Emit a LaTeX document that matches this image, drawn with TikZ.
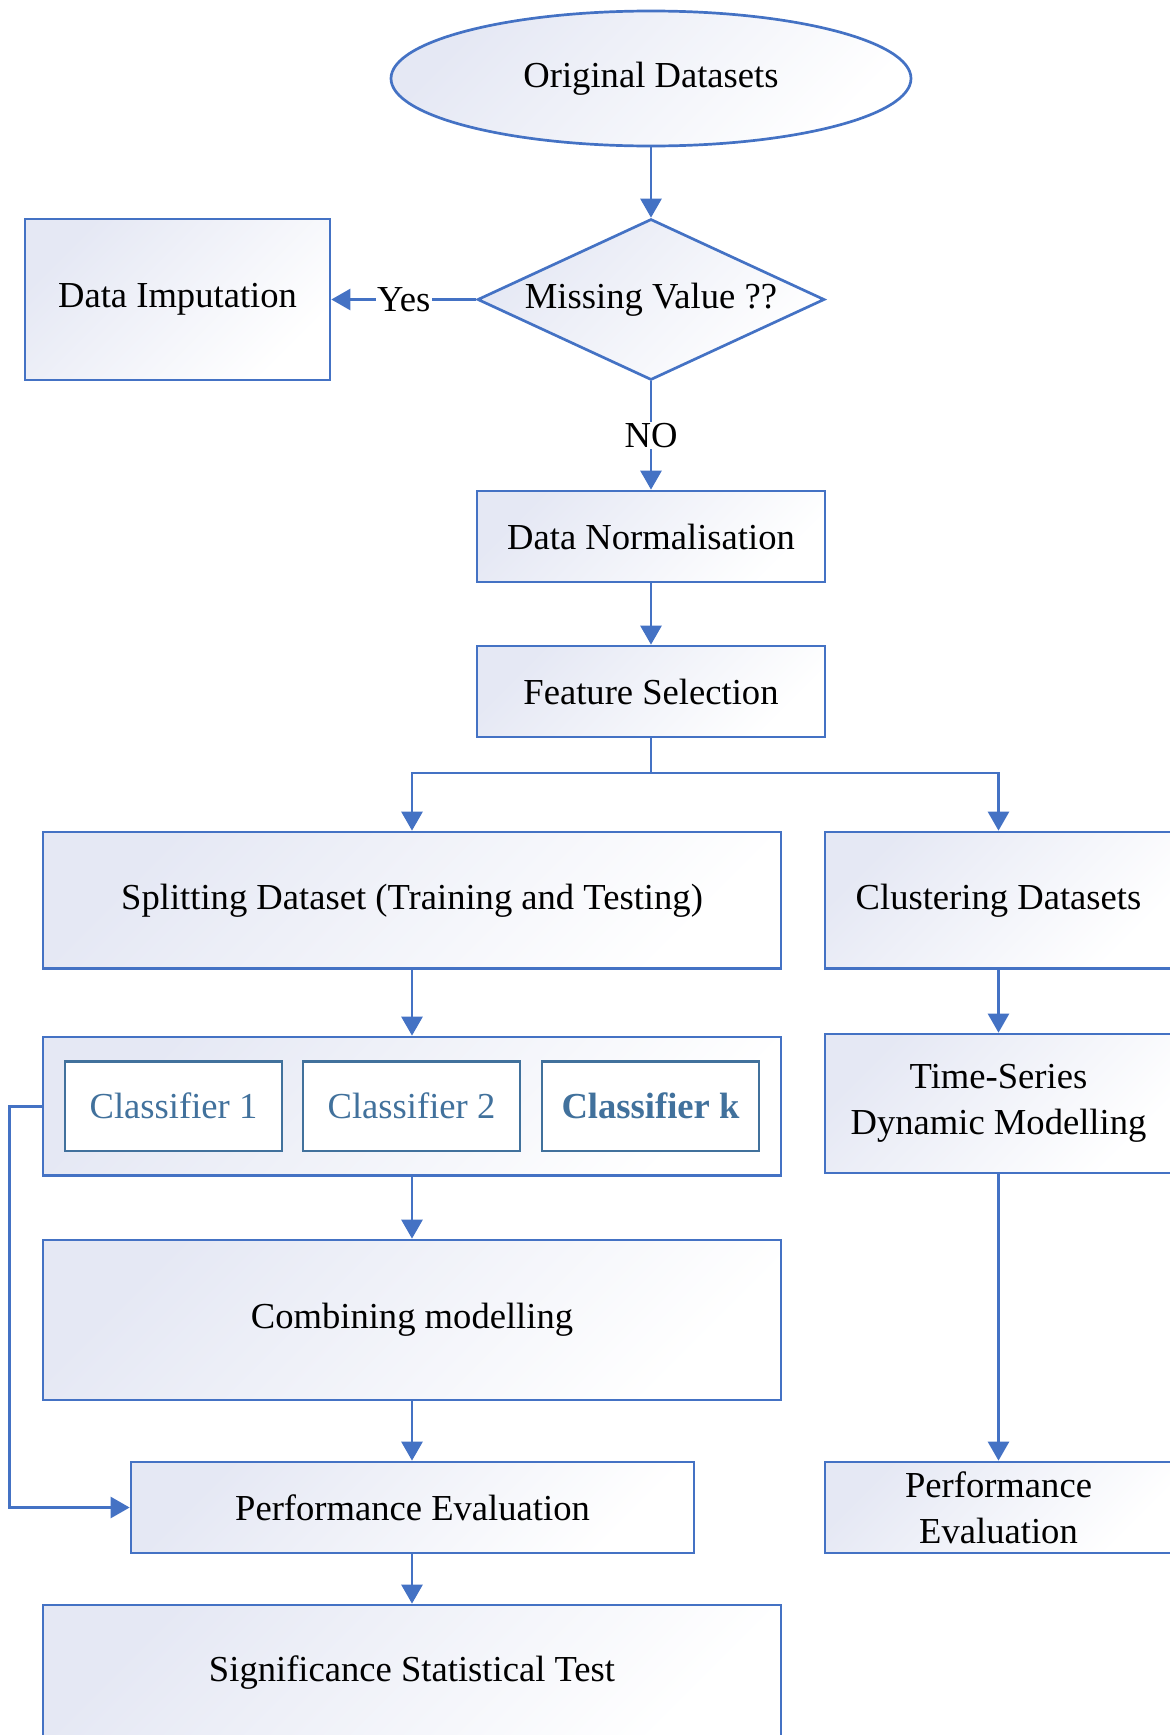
\documentclass[tikz,border=0pt]{standalone}
\usepackage{fontspec}
\setmainfont{Liberation Serif}
\usetikzlibrary{shapes.geometric,arrows.meta}

\definecolor{edge}{RGB}{68,114,196}
\definecolor{shadetop}{RGB}{229,232,244}
\definecolor{clsblue}{RGB}{65,113,156}

\tikzset{
  shadedfill/.style={top color=shadetop, bottom color=white, shading angle=45},
  box/.style={draw=edge, line width=2.7pt, shadedfill, inner sep=0pt,
              align=center, text=black},
  clsbox/.style={draw=clsblue, line width=2.4pt, fill=white, inner sep=0pt,
                 minimum width=217pt, minimum height=89.5pt, text=clsblue},
  flow/.style={draw=edge, line width=2.7pt,
               -{Triangle[length=19pt,width=21pt]}},
  link/.style={draw=edge, line width=2.7pt},
  lbl/.style={fill=white, inner sep=1.5pt, text=black},
}

\begin{document}
\begin{tikzpicture}[x=1pt,y=-1pt]
\fontsize{36.6}{46}\selectfont
\useasboundingbox (0,0) rectangle (1170,1735);
\clip (0,0) rectangle (1170,1735);

% main pipeline
\node[box, ellipse, minimum width=520pt, minimum height=135pt] (orig)
  at (651,78.5) {Original Datasets};
\node[box, diamond, aspect=2.155, minimum width=347pt, minimum height=161pt] (miss)
  at (651,299.5) {Missing Value ??};
\node[box, minimum width=305pt, minimum height=161pt] (imput)
  at (177.5,299.5) {Data Imputation};
\node[box, minimum width=348pt, minimum height=91pt] (norm)
  at (651,536.5) {Data Normalisation};
\node[box, minimum width=348pt, minimum height=91pt] (feat)
  at (651,691.5) {Feature Selection};

% classification branch
\node[box, minimum width=738pt, minimum height=136.5pt] (split)
  at (412,900.25) {Splitting Dataset (Training and Testing)};
\node[box, minimum width=738pt, minimum height=138.5pt] (cont)
  at (412,1106.25) {};
\node[clsbox] (c1) at (173.5,1106.25) {Classifier 1};
\node[clsbox] (c2) at (411.5,1106.25) {Classifier 2};
\node[clsbox] (ck) at (650.5,1106.25) {\bfseries Classifier k};
\node[box, minimum width=738pt, minimum height=160pt] (comb)
  at (412,1320) {Combining modelling};
\node[box, minimum width=563pt, minimum height=91pt] (pe)
  at (412.5,1507.5) {Performance Evaluation};
\node[box, minimum width=738pt, minimum height=135pt] (sig)
  at (412,1672.5) {Significance Statistical Test};

% clustering branch
\node[box, minimum width=347pt, minimum height=136.5pt] (clus)
  at (998.5,900.25) {Clustering Datasets};
\node[box, minimum width=347pt, minimum height=139pt] (ts)
  at (998.5,1103.5) {Time-Series\\Dynamic Modelling};
\node[box, minimum width=347pt, minimum height=91pt] (pe2)
  at (998.5,1507.5) {Performance\\Evaluation};

% connectors
\draw[flow] (orig.south) -- (miss.north);
\draw[flow] (miss.west) -- node[lbl] {Yes} (imput.east);
\draw[flow] (miss.south) -- node[lbl] {NO} (norm.north);
\draw[flow] (norm.south) -- (feat.north);
\draw[link] (feat.south) -- ++(0,34.5) coordinate (fork);
\draw[flow] (fork) -| (split.north);
\draw[flow] (fork) -| (clus.north);
\draw[flow] (split.south) -- (cont.north);
\draw[flow] (cont.south) -- (comb.north);
\draw[flow] (comb.south) -- (comb.south |- pe.north);
\draw[flow] (pe.south -| sig.north) -- (sig.north);
\draw[flow] (cont.west) -- ++(-32,0) |- (pe.west);
\draw[flow] (clus.south) -- (ts.north);
\draw[flow] (ts.south) -- (pe2.north);
\end{tikzpicture}
\end{document}
